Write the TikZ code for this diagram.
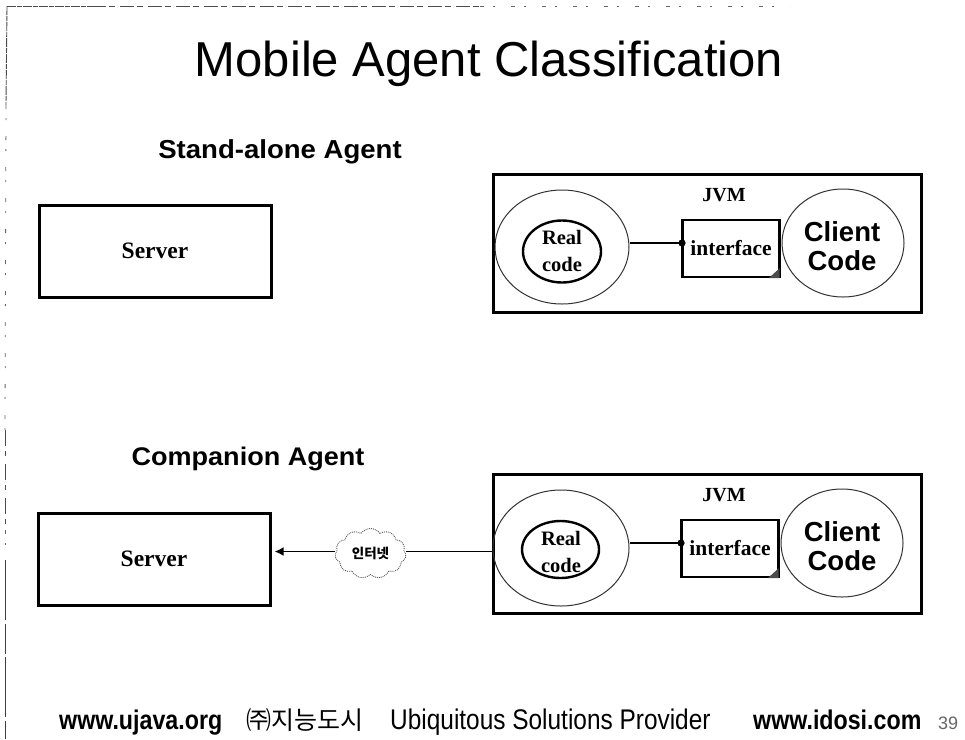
\documentclass[tikz,border=0pt]{standalone}
\usepackage{fontspec}
\setmainfont{Liberation Serif}
\setsansfont{Liberation Sans}
\newfontfamily\krfont{Noto Sans CJK KR}
\newfontfamily\condfont[FakeStretch=0.86]{Liberation Sans}
\newfontfamily\headfam[FakeStretch=1.06]{Liberation Sans}
\usetikzlibrary{shapes.symbols,shapes.geometric,arrows.meta}
\tikzset{
  heavybox/.style={draw=black,line width=3pt,fill=white,inner sep=0pt},
  thinring/.style={draw=black!80,line width=1pt,ellipse,inner sep=0pt},
  realring/.style={draw=black,line width=2.4pt,ellipse,inner sep=0pt},
  iface/.style={draw=black,line width=2.4pt,fill=white,minimum width=97pt,minimum height=57pt,inner sep=0pt,font=\rmfamily\bfseries\fontsize{21.5}{25}\selectfont},
  conn/.style={draw=black,line width=2pt},
  jvmfont/.style={inner sep=0pt,font=\rmfamily\bfseries\fontsize{20}{24}\selectfont},
  serverfont/.style={font=\rmfamily\bfseries\fontsize{23.5}{27}\selectfont},
  realfont/.style={inner sep=0pt,align=center,font=\rmfamily\bfseries\fontsize{20.5}{27}\selectfont},
  clientfont/.style={inner sep=0pt,align=center,font=\sffamily\bfseries\fontsize{27.5}{29}\selectfont},
  scandense/.style={draw=black!70,line width=0.9pt,dash pattern=on 9pt off 1pt on 5pt off 1pt},
  scansparse/.style={draw=black!60,line width=0.8pt,dash pattern=on 4pt off 9pt on 2pt off 16pt}
}
\begin{document}
\begin{tikzpicture}[x=1pt,y=-1pt]
\useasboundingbox (0,0) rectangle (965,739);
\fill[white] (0,0) rectangle (965,739);
% scan artefacts
\coordinate (ta) at (7,6); \coordinate (tb) at (92,6); \coordinate (tc) at (480,6); \coordinate (td) at (790,6);
\coordinate (la) at (6,105); \coordinate (lb) at (5,430); \coordinate (lc) at (5,530); \coordinate (ld) at (5,560); \coordinate (le) at (5,739);
\draw[scandense] (ta) -- (tb);
\draw[scandense,dash pattern=on 14pt off 3pt on 6pt off 5pt] (tb) -- (tc);
\draw[scansparse] (tc) -- (td);
\draw[scandense] (ta) -- (la);
\draw[scansparse] (la) -- (lb);
\draw[scandense,dash pattern=on 16pt off 5pt on 5pt off 8pt] (lb) -- (lc);
\draw[scansparse] (lc) -- (ld);
\draw[draw=black!75,line width=1pt,dash pattern=on 60pt off 4pt on 30pt off 3pt] (ld) -- (le);
\node[inner sep=0pt,anchor=base,font=\sffamily\fontsize{49}{56}\selectfont] (title) at (489,76) {Mobile Agent Classification};
\node[inner sep=0pt,anchor=base,font=\headfam\bfseries\fontsize{26}{30}\selectfont] (t1) at (280,158) {Stand-alone Agent};
\node[inner sep=0pt,anchor=base,font=\headfam\bfseries\fontsize{25.5}{30}\selectfont] (t2) at (248,465) {Companion Agent};
% top row
\node[heavybox,minimum width=232pt,minimum height=92pt,serverfont] (s1) at (155,251) {Server};
\node[heavybox,minimum width=428pt,minimum height=138pt] (j1) at (707.5,243.5) {};
\node[jvmfont] (jv1) at (724,195) {JVM};
\node[thinring,minimum width=134pt,minimum height=114pt] (o1) at (562,247) {};
\node[realring,minimum width=78pt,minimum height=62pt] (r1) at (562,251.5) {};
\node[realfont] (rt1) at (562,251) {Real\\code};
\node[thinring,minimum width=122pt,minimum height=108pt] (c1) at (843,243) {};
\node[clientfont] (ct1) at (842,246) {Client\\Code};
\node[iface] (i1) at (731,248.5) {interface};
\coordinate (p1) at (682,243);
\draw[conn] (o1.east |- p1) -- (p1);
\fill (p1) circle (3.6);
\fill[black!70] (i1.south east) ++(-12,0) -- ++(11,-10) -- ++(0,10) -- cycle;
% bottom row
\node[heavybox,minimum width=232pt,minimum height=92pt,serverfont] (s2) at (154,559) {Server};
\node[heavybox,minimum width=428pt,minimum height=139pt] (j2) at (707,543.5) {};
\node[jvmfont] (jv2) at (724,495) {JVM};
\node[thinring,minimum width=136pt,minimum height=116pt] (o2) at (561,548) {};
\node[realring,minimum width=77pt,minimum height=57pt] (r2) at (560.5,549.5) {};
\node[realfont] (rt2) at (561,552) {Real\\code};
\node[thinring,minimum width=122pt,minimum height=108pt] (c2) at (842,543) {};
\node[clientfont] (ct2) at (842,546.5) {Client\\Code};
\node[iface] (i2) at (730,548.5) {interface};
\coordinate (p2) at (681,543);
\draw[conn] (o2.east |- p2) -- (p2);
\fill (p2) circle (3.6);
\fill[black!70] (i2.south east) ++(-12,0) -- ++(11,-10) -- ++(0,10) -- cycle;
% cloud
\node[cloud,cloud puffs=11,cloud puff arc=110,aspect=1.4,draw=black!65,densely dotted,line width=0.9pt,fill=white,minimum width=71pt,minimum height=50pt,inner sep=0pt,font=\krfont\bfseries\fontsize{13.5}{15}\selectfont] (net) at (370.5,553.5) {\raisebox{-3pt}{인터넷}};
\coordinate (j2l) at (o2.west |- 0,551.5);
\draw[conn,line width=1.6pt] (j2.west |- j2l) -- (net.east |- j2l);
\draw[conn,line width=1.8pt,-{Latex[length=9pt,width=9pt]}] (net.west |- j2l) -- ([xshift=3pt]s2.east |- j2l);
% footer
\node[inner sep=0pt,anchor=base west,font=\condfont\bfseries\fontsize{27}{31}\selectfont] (f1) at (59,729) {www.ujava.org};
\node[inner sep=0pt,anchor=base west,font=\krfont\fontsize{25}{31}\selectfont] (f2) at (246,729) {㈜지능도시};
\node[inner sep=0pt,anchor=base west,font=\condfont\fontsize{28.4}{32}\selectfont] (f3) at (390,729) {Ubiquitous Solutions Provider};
\node[inner sep=0pt,anchor=base west,font=\condfont\bfseries\fontsize{27}{31}\selectfont] (f4) at (753,729) {www.idosi.com};
\node[inner sep=0pt,anchor=base west,text=black!60,font=\sffamily\fontsize{18}{20}\selectfont] (f5) at (938,729) {39};
\end{tikzpicture}
\end{document}
